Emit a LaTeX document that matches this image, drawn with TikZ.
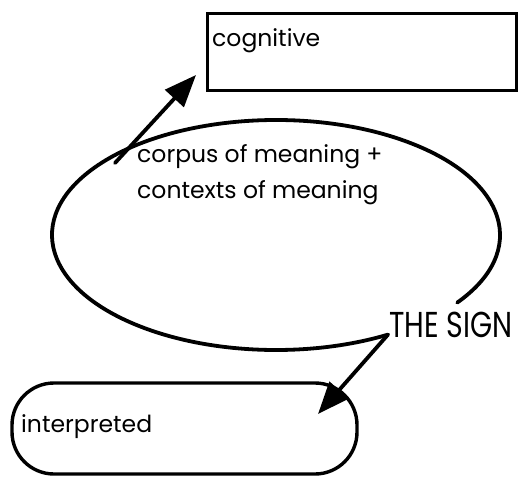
\documentclass[tikz,border=0pt]{standalone}
\usepackage{fontspec}
\setmainfont{Poppins}
\usetikzlibrary{arrows.meta,calc}
\begin{document}
\begin{tikzpicture}[x=1pt,y=1pt,
  line/.style={line width=3.8pt, line cap=round, line join=round},
  bigarrow/.style={line, -{Triangle[length=32pt,width=25pt]}},
  lbl/.style={inner sep=0pt, anchor=west, font=\fontsize{23.5}{36}\selectfont}]
\useasboundingbox (0,0) rectangle (518,-476);
% cognitive box
\node[draw, line width=3.4pt, minimum width=309pt, minimum height=77pt, inner sep=0pt, anchor=north west] (cog) at (206,-12) {};
\node[lbl] (cogt) at (212,-41) {cognitive};
% interpreted box
\draw[line width=3.4pt, rounded corners=42pt] (12,-383) rectangle (357,-474);
\node[inner sep=0pt] (interp) at (184.5,-428.5) {};
\node[lbl] (intt) at (21,-427) {interpreted};
% ellipse path
\coordinate (ec) at (276,-235);
\draw[line] (ec) ++(-36:224pt and 115pt) arc[start angle=-36, end angle=300, x radius=224pt, y radius=115pt] coordinate (corner);
\coordinate (itip) at (318,-414);
\draw[bigarrow] (corner) -- (itip);
% cognitive arrow
\coordinate (cstart) at (115,-163);
\coordinate (ctip) at (196,-75);
\draw[bigarrow] (cstart) -- (ctip);
% texts
\node[lbl, align=left] (corpus) at (137,-175) {corpus of meaning +\\contexts of meaning};
\node[inner sep=0pt, anchor=west, font=\fontsize{36}{36}\selectfont] (sign) at (389,-325) {\scalebox{0.79}[1]{THE SIGN}};
\end{tikzpicture}
\end{document}
